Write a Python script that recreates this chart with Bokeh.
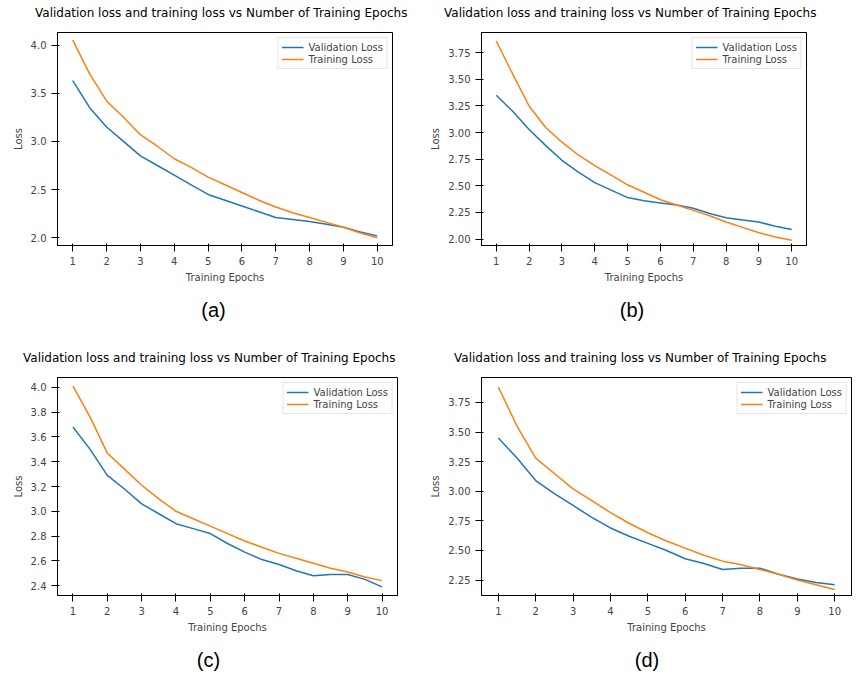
from bokeh.plotting import figure
from bokeh.layouts import column, row
from bokeh.models import Div, FixedTicker, PrintfTickFormatter
from bokeh.embed import file_html
from bokeh.resources import INLINE

epochs = [1, 1.5, 2, 2.5, 3, 3.5, 4, 4.5, 5, 5.5, 6, 6.5, 7, 7.5, 8, 8.5, 9, 9.5, 10]

val_a = [3.63, 3.35, 3.15, 3.00, 2.85, 2.75, 2.65, 2.55, 2.45, 2.39, 2.33, 2.27, 2.21, 2.19, 2.17, 2.14, 2.11, 2.06, 2.02]
train_a = [4.05, 3.70, 3.42, 3.25, 3.07, 2.95, 2.82, 2.73, 2.63, 2.55, 2.47, 2.39, 2.32, 2.26, 2.21, 2.16, 2.11, 2.05, 2.00]
val_b = [3.35, 3.20, 3.03, 2.88, 2.74, 2.63, 2.53, 2.46, 2.39, 2.36, 2.34, 2.32, 2.29, 2.24, 2.20, 2.18, 2.16, 2.12, 2.09]
train_b = [3.86, 3.55, 3.25, 3.05, 2.91, 2.79, 2.69, 2.60, 2.51, 2.44, 2.37, 2.32, 2.27, 2.22, 2.16, 2.11, 2.06, 2.02, 1.99]
val_c = [3.68, 3.50, 3.29, 3.18, 3.06, 2.98, 2.90, 2.86, 2.82, 2.74, 2.67, 2.61, 2.57, 2.52, 2.48, 2.49, 2.49, 2.45, 2.39]
train_c = [4.01, 3.76, 3.47, 3.34, 3.21, 3.10, 3.00, 2.94, 2.88, 2.82, 2.76, 2.71, 2.66, 2.62, 2.58, 2.54, 2.51, 2.47, 2.44]
val_d = [3.45, 3.28, 3.09, 2.98, 2.88, 2.78, 2.69, 2.62, 2.56, 2.50, 2.43, 2.39, 2.34, 2.35, 2.35, 2.30, 2.26, 2.23, 2.21]
train_d = [3.88, 3.55, 3.28, 3.15, 3.02, 2.92, 2.82, 2.73, 2.65, 2.58, 2.52, 2.46, 2.41, 2.38, 2.34, 2.30, 2.25, 2.21, 2.17]

ticks_a = [2.0, 2.5, 3.0, 3.5, 4.0]
ticks_b = [2.0, 2.25, 2.5, 2.75, 3.0, 3.25, 3.5, 3.75]
ticks_c = [2.4, 2.6, 2.8, 3.0, 3.2, 3.4, 3.6, 3.8, 4.0]
ticks_d = [2.25, 2.5, 2.75, 3.0, 3.25, 3.5, 3.75]
xticks = list(range(1, 11))
TITLE = "Validation loss and training loss vs Number of Training Epochs"
FONT = "DejaVu Sans"


def panel(val, train, yt, fmt, fw, fh, bl, br, yr):
    p = figure(frame_width=fw, frame_height=fh, min_border_left=bl, min_border_right=br,
               min_border_top=6, min_border_bottom=37, toolbar_location=None,
               output_backend="svg", x_range=(0.55, 10.45), y_range=yr)
    p.grid.visible = False
    p.outline_line_color = "black"
    p.line(epochs, val, color="#1f77b4", line_width=1.5, legend_label="Validation Loss")
    p.line(epochs, train, color="#ff7f0e", line_width=1.5, legend_label="Training Loss")
    p.xaxis.ticker = FixedTicker(ticks=xticks)
    p.yaxis.ticker = FixedTicker(ticks=yt)
    p.yaxis.formatter = PrintfTickFormatter(format=fmt)
    p.xaxis.axis_label = "Training Epochs"
    p.yaxis.axis_label = "Loss"
    for ax in (p.xaxis[0], p.yaxis[0]):
        ax.axis_label_text_font = FONT
        ax.axis_label_text_font_size = "10px"
        ax.axis_label_text_font_style = "normal"
        ax.major_label_text_font = FONT
        ax.major_label_text_font_size = "10px"
        ax.minor_tick_line_color = None
        ax.axis_label_standoff = 4
    p.legend.location = "top_right"
    p.legend.label_text_font = FONT
    p.legend.label_text_font_size = "10px"
    p.legend.glyph_height = 12
    p.legend.glyph_width = 22
    p.legend.label_height = 12
    p.legend.spacing = 0
    p.legend.padding = 3
    p.legend.margin = 5
    p.legend.border_line_color = "#cccccc"
    return p


def title(w, pad_left):
    return Div(text=f"<div style='font-family:DejaVu Sans, sans-serif;font-size:12px;white-space:nowrap;padding-left:{pad_left}px'>{TITLE}</div>",
               width=w, height=16)


def caption(t, w, h):
    return Div(text=f"<div style='font-family:Liberation Sans, sans-serif;font-size:20px;text-align:center;width:{w}px;padding-top:6px'>{t}</div>",
               width=w, height=h)


pa = panel(val_a, train_a, ticks_a, "%.1f", 335, 213, 57, 25, (1.92, 4.13))
pb = panel(val_b, train_b, ticks_b, "%.2f", 325, 213, 45, 30, (1.94, 3.94))
pc = panel(val_c, train_c, ticks_c, "%.1f", 340, 218, 37, 30, (2.32, 4.08))
pd = panel(val_d, train_d, ticks_d, "%.2f", 370, 218, 40, 20, (2.12, 3.96))

col1 = column(title(417, 30), pa, caption("(a)", 417, 50), title(407, 18), pc, caption("(c)", 407, 40))
col2 = column(title(420, 12), pb, caption("(b)", 400, 50), title(430, 22), pd, caption("(d)", 430, 40))
layout = row(col1, col2)

open("out.html", "w").write(file_html(layout, INLINE))
